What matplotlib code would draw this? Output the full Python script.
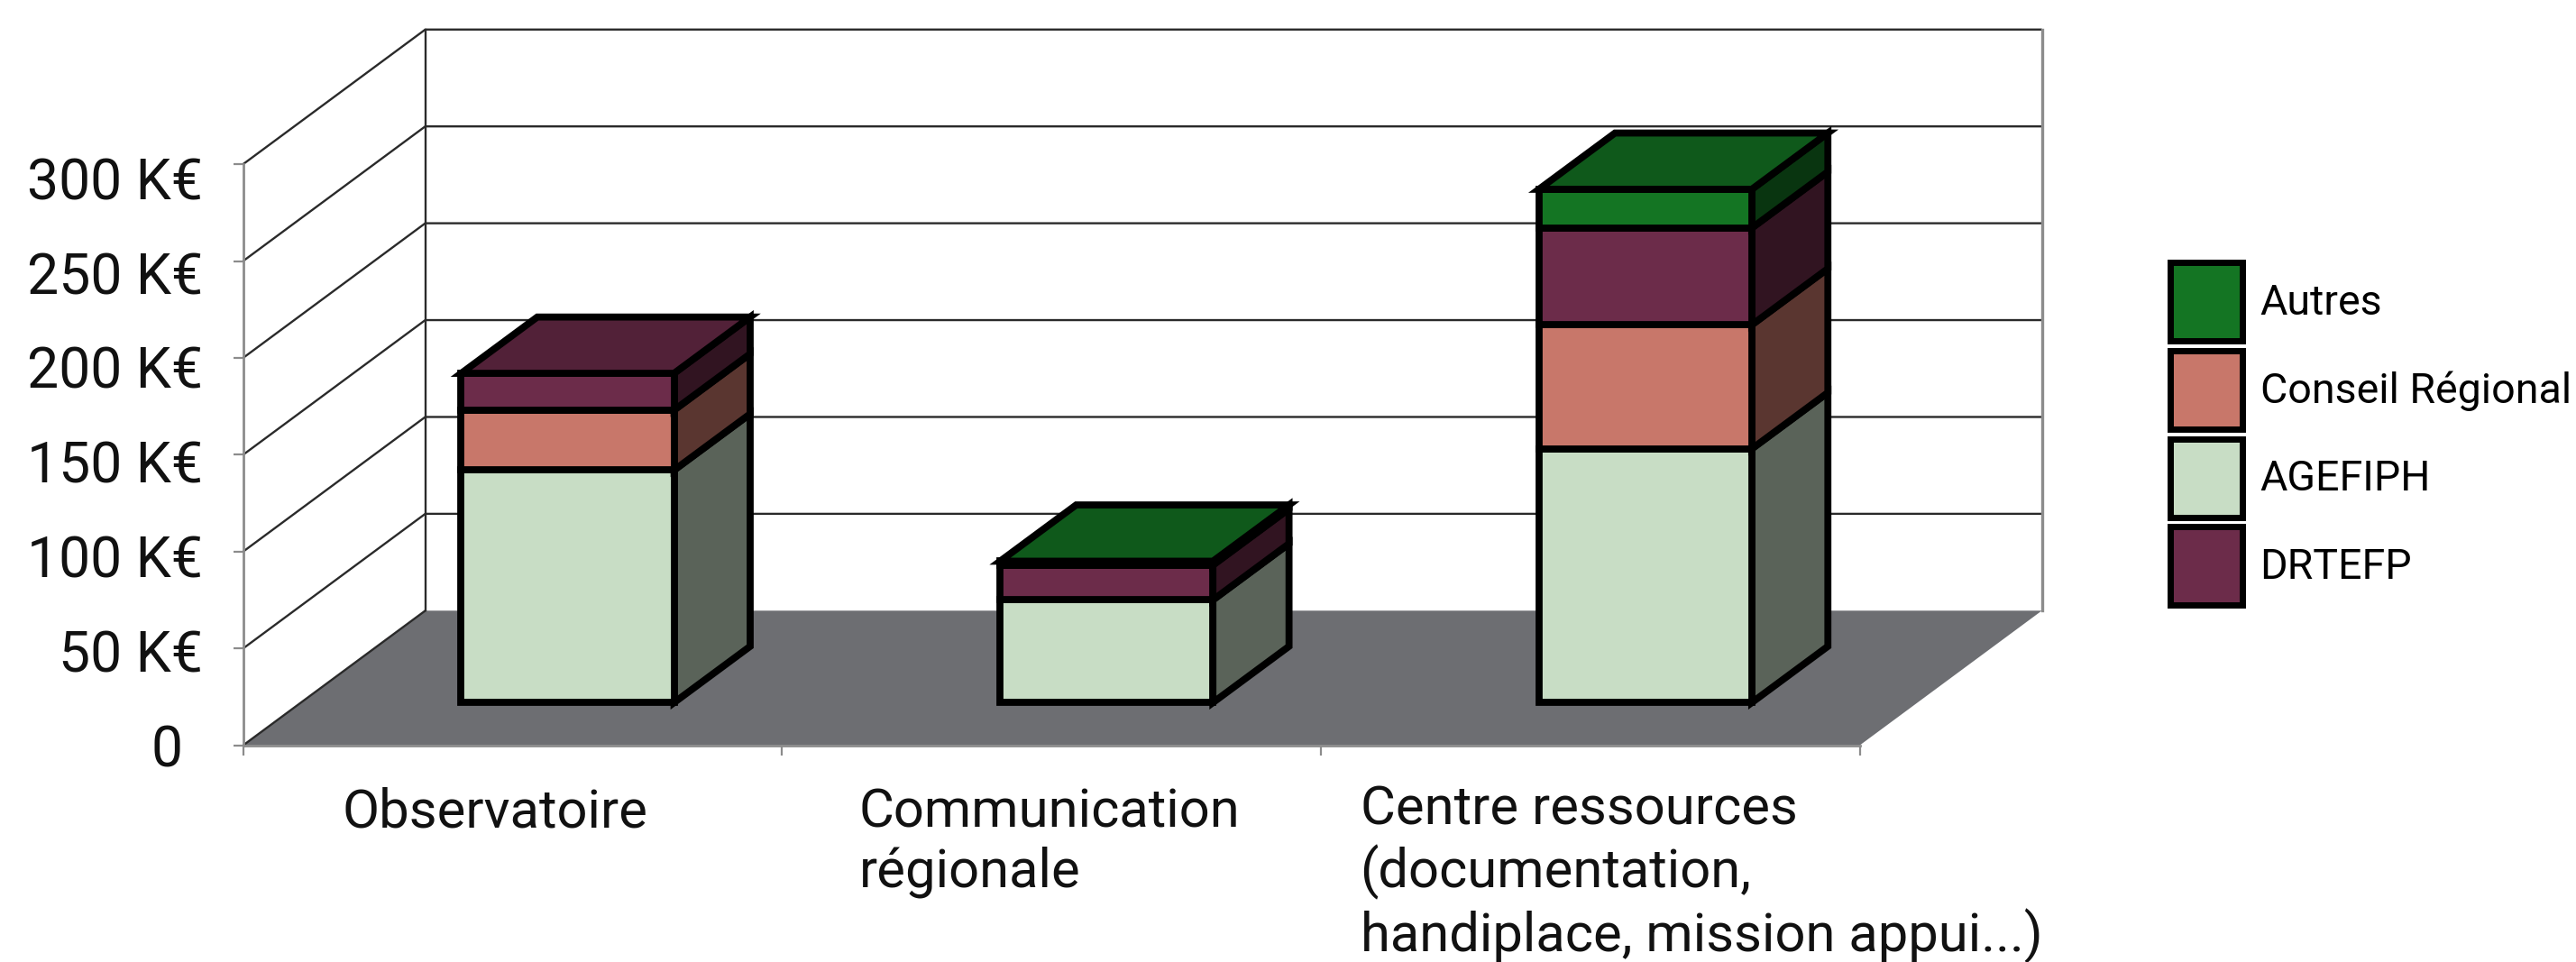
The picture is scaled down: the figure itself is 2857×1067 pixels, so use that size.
#!/usr/bin/env python
# coding: utf-8
import matplotlib
matplotlib.use("Agg")
import matplotlib.pyplot as plt
from matplotlib.colors import to_rgb
from matplotlib.patches import Patch, Polygon
from matplotlib.transforms import offset_copy

categories = ["Observatoire", "Communication\nrégionale",
              "Centre ressources\n(documentation,\nhandiplace, mission appui...)"]
agefiph = [120, 53, 131]
conseil = [31, 0, 64]
drtefp = [19, 18, 50]
autres = [0, 2, 20]

y_ticks = [0, 50, 100, 150, 200, 250, 300]
y_labels = ["0", "50 K€", "100 K€", "150 K€", "200 K€", "250 K€", "300 K€"]
legend_names = ["Autres", "Conseil Régional", "AGEFIPH", "DRTEFP"]

COLORS = {"Autres": "#147523", "Conseil Régional": "#C8776A",
          "AGEFIPH": "#C8DDC5", "DRTEFP": "#6C2C4A"}
FLOOR = "#6D6E72"
GRID = "#2a2a2a"
AXIS = "#8c8c8c"
FONT = "Roboto"

# oblique projection of the 3d box, one depth unit = whole floor depth
DEPTH_X = 0.338
DEPTH_Y = 69.5
BAR_WIDTH = 0.395
BAR_Z = (0.317, 0.735)


def project(x, y, z):
    return (x + z * DEPTH_X, y + z * DEPTH_Y)


def shade(color, k):
    return tuple(c * k for c in to_rgb(color))


def face(ax, corners, color, zorder=5):
    ax.add_patch(Polygon([project(*c) for c in corners], closed=True, facecolor=color,
                         edgecolor="black", linewidth=5.6, joinstyle="miter",
                         clip_on=False, zorder=zorder))


def draw_bar(ax, x0, x1, y0, y1, color, top):
    z0, z1 = BAR_Z
    face(ax, [(x1, y0, z0), (x1, y0, z1), (x1, y1, z1), (x1, y1, z0)], shade(color, 0.45))
    face(ax, [(x0, y0, z0), (x1, y0, z0), (x1, y1, z0), (x0, y1, z0)], color)
    if top:
        face(ax, [(x0, y1, z0), (x1, y1, z0), (x1, y1, z1), (x0, y1, z1)], shade(color, 0.76))


def draw_walls(ax):
    n = len(categories)
    floor = [project(0, 0, 0), project(n, 0, 0), project(n, 0, 1), project(0, 0, 1)]
    ax.add_patch(Polygon(floor, closed=True, facecolor=FLOOR, edgecolor="none",
                         clip_on=False, zorder=1))
    for v in y_ticks:
        pts = [project(0, v, 0), project(0, v, 1), project(n, v, 1)]
        if v == 0:
            pts = pts[:2]
        ax.plot([p[0] for p in pts], [p[1] for p in pts], color=GRID, lw=1.7,
                clip_on=False, zorder=2, solid_capstyle="butt")
    for x, col, lw in ((0, GRID, 1.7), (n, AXIS, 2.4)):
        a, b = project(x, 0, 1), project(x, y_ticks[-1], 1)
        ax.plot([a[0], b[0]], [a[1], b[1]], color=col, lw=lw, clip_on=False, zorder=2)


def style_axes(ax):
    ax.set_xlim(0, len(categories))
    ax.set_ylim(y_ticks[0], y_ticks[-1])
    for s in ("top", "right"):
        ax.spines[s].set_visible(False)
    for s in ("left", "bottom"):
        ax.spines[s].set_color(AXIS)
        ax.spines[s].set_linewidth(2)
        ax.spines[s].set_zorder(3)
    ax.set_xticks(range(len(categories) + 1))
    ax.set_xticklabels([])
    ax.set_yticks(y_ticks)
    ax.set_yticklabels(y_labels, fontsize=45, family=FONT, color="#111111")
    ax.tick_params(axis="both", length=8, width=1.6, color=AXIS)
    ax.tick_params(axis="y", pad=24)
    ax.patch.set_visible(False)


fig = plt.figure(figsize=(28.57, 10.67), dpi=100)
W, H = 1568.0, 586.0
ax = fig.add_axes([148 / W, 1 - 454 / H, (1132 - 148) / W, (454 - 100) / H])
style_axes(ax)
draw_walls(ax)

# reference labels are spaced a little tighter than the ticks, and the 0 sits off the right edge
for tick, v in zip(ax.yaxis.get_major_ticks(), y_ticks):
    lab = tick.label1
    lab.set_transform(offset_copy(lab.get_transform(), fig, x=-16 if v == 0 else 0,
                                  y=0 - v * 0.0375, units="points"))

for i in range(len(categories)):
    stack = [("AGEFIPH", agefiph[i]), ("Conseil Régional", conseil[i]),
             ("DRTEFP", drtefp[i]), ("Autres", autres[i])]
    stack = [s for s in stack if s[1] > 0]
    base = 0
    for j, (name, val) in enumerate(stack):
        draw_bar(ax, i + 0.495 - BAR_WIDTH / 2, i + 0.495 + BAR_WIDTH / 2, base, base + val,
                 COLORS[name], j == len(stack) - 1)
        base += val

label_x = [0.183, 1.143, 2.073]
label_dy = [-33, -33, -31]
for x, dy, txt in zip(label_x, label_dy, categories):
    ax.annotate(txt, xy=(x, 0), xytext=(0, dy), textcoords="offset points", ha="left", va="top",
                fontsize=43, family=FONT, color="#111111", linespacing=1.2,
                annotation_clip=False)

handles = [Patch(facecolor=COLORS[n], edgecolor="black", linewidth=5, label=n) for n in legend_names]
fig.legend(handles=handles, loc="upper left", bbox_to_anchor=(1321 / W, 1 - 160 / H),
           frameon=False, borderpad=0, borderaxespad=0, handlelength=1.72, handleheight=2.5,
           handletextpad=0.42, labelspacing=0.23,
           prop={"family": FONT, "size": 33.5})

fig.savefig("out.png", dpi=100)
